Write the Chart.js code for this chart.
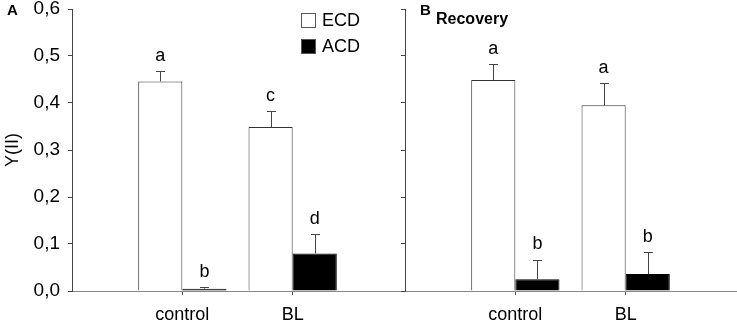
<!DOCTYPE html>
<html>
<head>
<meta charset="utf-8">
<script src="https://cdn.jsdelivr.net/npm/chart.js@4.4.1/dist/chart.umd.min.js"></script>
<style>
  body { margin: 0; background: #fff; width: 737px; height: 325px; position: relative; overflow: hidden; }
  canvas { position: absolute; top: 0; }
  .lbl { position: absolute; font-family: 'Liberation Sans', Arial, sans-serif; font-weight: bold; color: #000; }
</style>
</head>
<body>
<canvas id="chartA" width="404" height="325" style="left:0px"></canvas>
<canvas id="chartB" width="342" height="325" style="left:395px"></canvas>
<div class="lbl" style="left:7px; top:1px; font-size:15px;">A</div>
<div class="lbl" style="left:420px; top:1px; font-size:15px;">B</div>
<div class="lbl" style="left:436px; top:10px; font-size:16px;">Recovery</div>
<script>
// categories (empty ends keep the groups at 1/3 and 2/3 of the axis)
const categories = ['', 'control', 'BL', ''];
const seriesNames = ['ECD', 'ACD'];

// panel A
const ecdA = [null, 0.446, 0.349, null];
const ecdAErr = [null, 0.023, 0.034, null];
const acdA = [null, 0.005, 0.080, null];
const acdAErr = [null, 0.004, 0.041, null];
const ecdALetters = ['', 'a', 'c', ''];
const acdALetters = ['', 'b', 'd', ''];

// panel B (Recovery)
const ecdB = [null, 0.449, 0.395, null];
const ecdBErr = [null, 0.033, 0.048, null];
const acdB = [null, 0.025, 0.036, null];
const acdBErr = [null, 0.042, 0.047, null];
const ecdBLetters = ['', 'a', 'a', ''];
const acdBLetters = ['', 'b', 'b', ''];

const yTicks = [0, 0.1, 0.2, 0.3, 0.4, 0.5, 0.6];

const FONT = "'Liberation Sans', Arial, sans-serif";

// error bars + letters
const errorPlugin = {
    id: 'errbars',
    afterDatasetsDraw(chart) {
        const ctx = chart.ctx;
        const y = chart.scales.y;
        chart.data.datasets.forEach((ds, di) => {
            const meta = chart.getDatasetMeta(di);
            meta.data.forEach((bar, i) => {
                const v = ds.data[i];
                if (v === null) return;
                const top = y.getPixelForValue(v + ds.err[i]);
                ctx.save();
                ctx.strokeStyle = '#444';
                ctx.lineWidth = 1;
                ctx.beginPath();
                ctx.moveTo(Math.round(bar.x) + 0.5, bar.y);
                ctx.lineTo(Math.round(bar.x) + 0.5, Math.round(top) + 0.5);
                ctx.moveTo(Math.round(bar.x) - 4, Math.round(top) + 0.5);
                ctx.lineTo(Math.round(bar.x) + 5, Math.round(top) + 0.5);
                ctx.stroke();
                ctx.fillStyle = '#000';
                ctx.font = '18px ' + FONT;
                ctx.textAlign = 'center';
                ctx.textBaseline = 'middle';
                ctx.fillText(ds.letters[i], bar.x, top - 15);
                ctx.restore();
            });
        });
    }
};

// legend drawn inside panel A
const legendPlugin = {
    id: 'boxLegend',
    afterDraw(chart) {
        if (!chart.options.plugins.boxLegend) return;
        const ctx = chart.ctx;
        chart.data.datasets.forEach((ds, i) => {
            const yy = 13 + i * 26;
            ctx.save();
            ctx.fillStyle = ds.backgroundColor;
            ctx.strokeStyle = '#555';
            ctx.lineWidth = 1;
            ctx.fillRect(301, yy, 15, 15);
            ctx.strokeRect(301.5, yy + 0.5, 14, 14);
            ctx.fillStyle = '#000';
            ctx.font = '18px ' + FONT;
            ctx.textBaseline = 'middle';
            ctx.fillText(ds.label, 322, yy + 8);
            ctx.restore();
        });
    }
};

function makeChart(id, ecd, ecdErr, ecdLetters, acd, acdErr, acdLetters, showLabels, axisWidth, legend) {
    const ctx = document.getElementById(id).getContext('2d');
    return new Chart(ctx, {
        type: 'bar',
        data: {
            labels: categories,
            datasets: [{
                label: seriesNames[0],
                data: ecd,
                err: ecdErr,
                letters: ecdLetters,
                backgroundColor: '#ffffff',
                borderColor: '#333',
                borderWidth: 1,
                categoryPercentage: 0.8,
                barPercentage: 1.0
            }, {
                label: seriesNames[1],
                data: acd,
                err: acdErr,
                letters: acdLetters,
                backgroundColor: '#000000',
                borderColor: '#000',
                borderWidth: 1,
                categoryPercentage: 0.8,
                barPercentage: 1.0
            }]
        },
        options: {
            responsive: false,
            animation: false,
            layout: { padding: { top: 9, right: 1, bottom: 0, left: 0 } },
            plugins: {
                legend: { display: false },
                tooltip: { enabled: false },
                boxLegend: legend
            },
            scales: {
                x: {
                    offset: false,
                    grid: {
                        offset: false,
                        drawOnChartArea: false,
                        drawTicks: true,
                        tickLength: 4,
                        color: (c) => (c.index === 0 || c.index === categories.length - 1) ? 'rgba(0,0,0,0)' : '#555'
                    },
                    border: { display: true, color: '#888' },
                    ticks: {
                        autoSkip: false,
                        maxRotation: 0,
                        padding: 9,
                        color: '#000',
                        font: { family: FONT, size: 18 }
                    },
                    afterFit: (s) => { s.height = 34; s.paddingLeft = 0; s.paddingRight = 0; }
                },
                y: {
                    min: 0,
                    max: 0.6,
                    afterBuildTicks: (s) => { s.ticks = yTicks.map(v => ({ value: v })); },
                    grid: {
                        drawOnChartArea: false,
                        drawTicks: true,
                        tickLength: 4,
                        color: '#444'
                    },
                    border: { display: true, color: '#444' },
                    ticks: {
                        display: showLabels,
                        padding: 8,
                        color: '#000',
                        font: { family: FONT, size: 19 },
                        callback: (v) => v.toFixed(1).replace('.', ',')
                    },
                    title: {
                        display: showLabels,
                        text: 'Y(II)',
                        color: '#000',
                        padding: { top: 2, bottom: 0 },
                        font: { family: FONT, size: 18 }
                    },
                    afterFit: (s) => { s.width = axisWidth; s.paddingTop = 0; s.paddingBottom = 0; }
                }
            }
        },
        plugins: [errorPlugin, legendPlugin]
    });
}

makeChart('chartA', ecdA, ecdAErr, ecdALetters, acdA, acdAErr, acdALetters, true, 72, true);
makeChart('chartB', ecdB, ecdBErr, ecdBLetters, acdB, acdBErr, acdBLetters, false, 10, false);
</script>
</body>
</html>
